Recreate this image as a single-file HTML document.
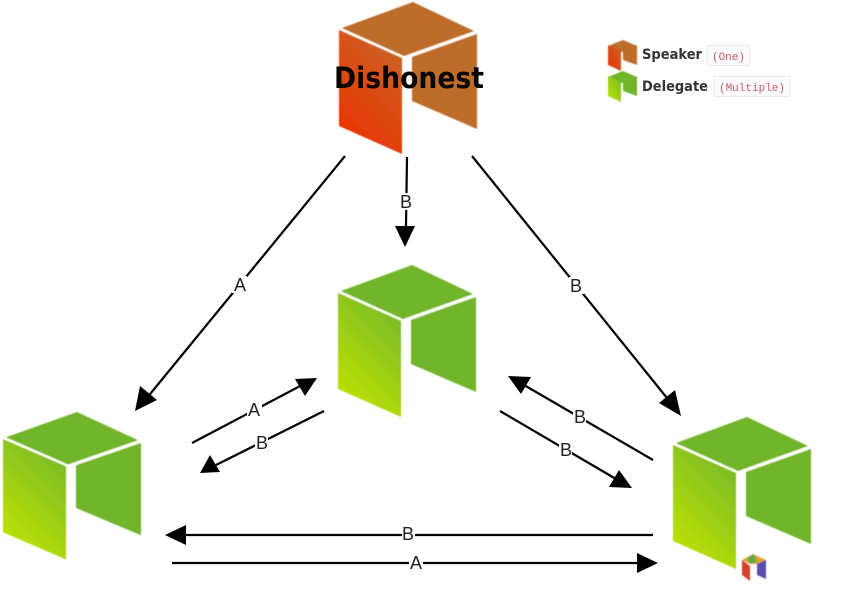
<!DOCTYPE html>
<html><head><meta charset="utf-8"><style>
html,body{margin:0;padding:0;background:#fff;width:847px;height:589px;overflow:hidden}
svg{display:block}
text{font-family:"Liberation Sans",sans-serif}
</style></head><body>
<svg width="847" height="589" viewBox="0 0 847 589" xmlns="http://www.w3.org/2000/svg">
<defs>
<linearGradient id="g" gradientUnits="userSpaceOnUse" x1="-80" y1="125" x2="-5" y2="50"><stop offset="0" stop-color="#bfe200"/><stop offset="0.55" stop-color="#97cc18"/><stop offset="1" stop-color="#76ba2a"/></linearGradient>
<linearGradient id="o" gradientUnits="userSpaceOnUse" x1="-80" y1="125" x2="-5" y2="50"><stop offset="0" stop-color="#e93200"/><stop offset="0.55" stop-color="#da4e14"/><stop offset="1" stop-color="#c8642a"/></linearGradient>
<linearGradient id="g2" x1="0" y1="1" x2="1" y2="0"><stop offset="0" stop-color="#bfe200"/><stop offset="1" stop-color="#76ba2a"/></linearGradient>
<linearGradient id="o2" x1="0" y1="1" x2="1" y2="0"><stop offset="0" stop-color="#e93200"/><stop offset="1" stop-color="#c8642a"/></linearGradient>
<filter id="b" x="-5%" y="-5%" width="110%" height="110%"><feGaussianBlur stdDeviation="0.6"/></filter>
<g id="gc"><polygon points="0,0 -71,26 -9,54 61,29" fill="#6fb52c"/><polygon points="-74,28 -11,56 -11,152 -74,124" fill="url(#g)"/><polygon points="-1,55 64,32 64,127 -1,99" fill="#6fb52c"/></g>
<g id="oc"><polygon points="0,0 -71,26 -9,54 61,29" fill="#bd6c2a"/><polygon points="-74,28 -11,56 -11,152 -74,124" fill="url(#o)"/><polygon points="-1,55 64,32 64,127 -1,99" fill="#bd6c2a"/></g>
</defs>
<g filter="url(#b)">
<use href="#oc" transform="translate(413,2)"/>
<use href="#gc" transform="translate(412,265)"/>
<use href="#gc" transform="translate(77,412) scale(1,0.97)"/>
<use href="#gc" transform="translate(747,417)"/>
<g>
<polygon points="623,40 608,46 622,52 637,46" fill="#bd6c2a"/><polygon points="608,45 621,51 621,71 608,65" fill="url(#o2)"/><polygon points="623,51 637,45 637,65 623,60" fill="#bd6c2a"/>
<polygon points="623,71 608,77 622,83 637,77" fill="#6fb52c"/><polygon points="608,76 621,82 621,102 608,96" fill="url(#g2)"/><polygon points="623,82 637,76 637,96 623,91" fill="#6fb52c"/>
</g>
<g transform="translate(742,554)">
<polygon points="0,6 8,12 8,27 0,21" fill="#d8402c"/><polygon points="0,6 11,0 24,6 16,10 8,10" fill="#e6a030"/><polygon points="15,10 24,6 24,25 15,21" fill="#5a4fb0"/><polygon points="5,4 12,0 15,8 8,10" fill="#5cae44"/>
</g>
</g>
<g stroke="#000" stroke-width="2.2" fill="#000">
<line x1="345" y1="156" x2="146" y2="399"/><polygon points="135,411 140,386 157,400" stroke="none"/>
<line x1="407" y1="157" x2="406" y2="226"/><polygon points="405,247 395,226 415,226" stroke="none"/>
<line x1="472" y1="156" x2="671" y2="403"/><polygon points="681,416 659,403 675,390" stroke="none"/>
<line x1="192" y1="443" x2="302" y2="385"/><polygon points="317,378 305,396 295,379" stroke="none"/>
<line x1="324" y1="411" x2="216" y2="465"/><polygon points="200,473 210,455 220,472" stroke="none"/>
<line x1="653" y1="460" x2="524" y2="385"/><polygon points="508,376 531,377 521,394" stroke="none"/>
<line x1="500" y1="411" x2="616" y2="479"/><polygon points="632,488 609,487 619,470" stroke="none"/>
<line x1="653" y1="535" x2="185" y2="535"/><polygon points="165,535 186,525 186,545" stroke="none"/>
<line x1="172" y1="563" x2="640" y2="563"/><polygon points="658,563 637,553 637,573" stroke="none"/>
</g>
<g fill="#fff">
<rect x="232" y="276" width="15" height="17"/><rect x="398" y="193" width="15" height="17"/><rect x="569" y="277" width="15" height="17"/>
<rect x="247" y="401" width="15" height="17"/><rect x="255" y="435" width="13" height="17"/><rect x="573" y="408" width="13" height="17"/><rect x="559" y="441" width="13" height="17"/>
<rect x="402" y="526" width="13" height="16"/><rect x="409" y="554" width="14" height="16"/>
</g>
<g font-size="18" fill="#222" text-anchor="middle">
<text x="240" y="291">A</text><text x="406" y="208">B</text><text x="576" y="292">B</text>
<text x="254" y="416">A</text><text x="262" y="449">B</text><text x="580" y="423">B</text><text x="566" y="456">B</text>
<text x="408" y="540">B</text><text x="416" y="569">A</text>
</g>
<text x="409" y="88" font-size="29" font-weight="bold" fill="#0a0505" text-anchor="middle" textLength="150" lengthAdjust="spacingAndGlyphs" style="font-family:'DejaVu Sans',sans-serif">Dishonest</text>
<text x="642" y="59" font-size="14" font-weight="bold" fill="#333" textLength="60" lengthAdjust="spacingAndGlyphs" style="font-family:'DejaVu Sans',sans-serif">Speaker</text>
<text x="642" y="91" font-size="14" font-weight="bold" fill="#333" textLength="66" lengthAdjust="spacingAndGlyphs" style="font-family:'DejaVu Sans',sans-serif">Delegate</text>
<rect x="707" y="45.500" width="43" height="20" rx="2" fill="#fbfbfb" stroke="#e8e8e8"/>
<rect x="714" y="76.500" width="76" height="20" rx="2" fill="#fbfbfb" stroke="#e8e8e8"/>
<text x="728.500" y="60" font-size="11" fill="#c25b6a" text-anchor="middle" style="font-family:'Liberation Mono',monospace">(One)</text>
<text x="752" y="91" font-size="11" fill="#c25b6a" text-anchor="middle" style="font-family:'Liberation Mono',monospace">(Multiple)</text>
</svg>
</body></html>
